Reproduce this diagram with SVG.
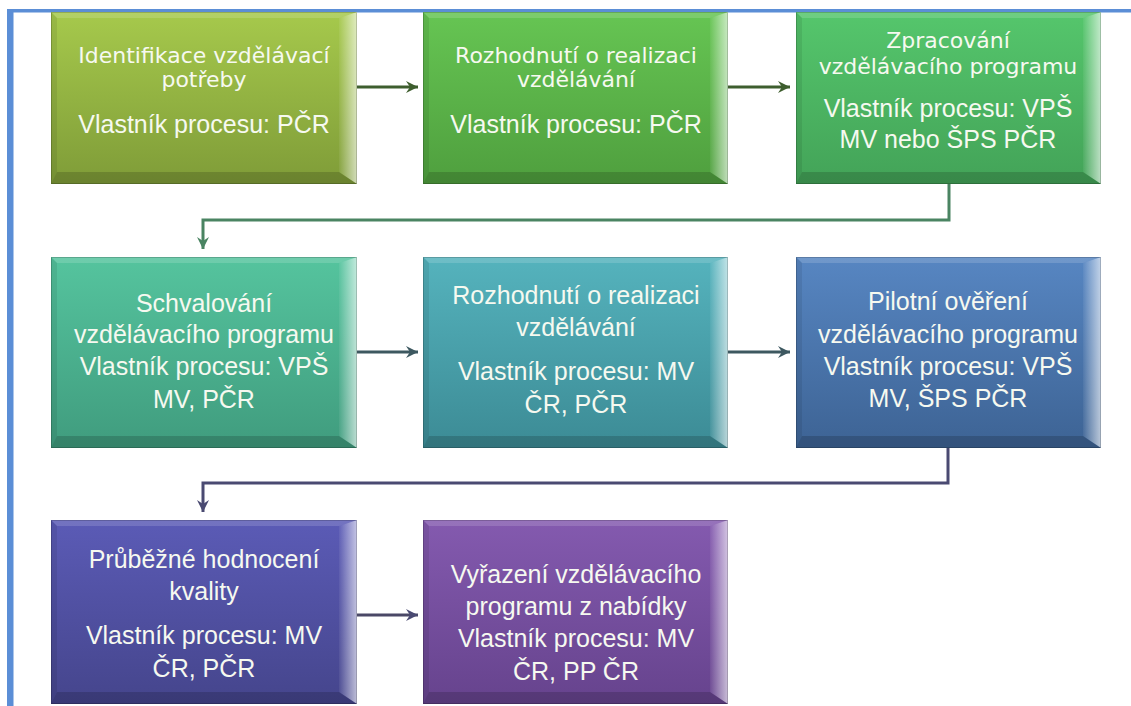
<svg xmlns="http://www.w3.org/2000/svg" width="1131" height="706" viewBox="0 0 1131 706">
<style>
.t{font-family:"Liberation Sans",Arial,sans-serif;font-size:25px;fill:#f6f9f0;text-anchor:middle}
.d{font-family:"DejaVu Sans",Verdana,sans-serif;font-size:22px;fill:#f6f9f0;text-anchor:middle}
.bt{fill:#ffffff;fill-opacity:0.15}
.br{fill:url(#rb)}
.bb{fill:#000000;fill-opacity:0.16}
.bl{fill:#000000;fill-opacity:0.08}
.edge{fill:none;stroke:#000;stroke-opacity:0.18;stroke-width:1}
.c{fill:none;stroke-width:3}
</style>
<defs>
<linearGradient id="rb" x1="0" y1="0" x2="1" y2="0"><stop offset="0" stop-color="#fff" stop-opacity="0.05"/><stop offset="1" stop-color="#fff" stop-opacity="0.65"/></linearGradient>
<linearGradient id="g1" x1="0" y1="0" x2="0" y2="1"><stop offset="0" stop-color="#a6c94c"/><stop offset="1" stop-color="#7f9c38"/></linearGradient>
<linearGradient id="g2" x1="0" y1="0" x2="0" y2="1"><stop offset="0" stop-color="#66c553"/><stop offset="1" stop-color="#4f9f3e"/></linearGradient>
<linearGradient id="g3" x1="0" y1="0" x2="0" y2="1"><stop offset="0" stop-color="#55c66c"/><stop offset="1" stop-color="#43a358"/></linearGradient>
<linearGradient id="g4" x1="0" y1="0" x2="0" y2="1"><stop offset="0" stop-color="#55c49e"/><stop offset="1" stop-color="#409c7e"/></linearGradient>
<linearGradient id="g5" x1="0" y1="0" x2="0" y2="1"><stop offset="0" stop-color="#55b3bd"/><stop offset="1" stop-color="#3c8b95"/></linearGradient>
<linearGradient id="g6" x1="0" y1="0" x2="0" y2="1"><stop offset="0" stop-color="#5786c2"/><stop offset="1" stop-color="#3d6394"/></linearGradient>
<linearGradient id="g7" x1="0" y1="0" x2="0" y2="1"><stop offset="0" stop-color="#5b5bb6"/><stop offset="1" stop-color="#45458c"/></linearGradient>
<linearGradient id="g8" x1="0" y1="0" x2="0" y2="1"><stop offset="0" stop-color="#845aaf"/><stop offset="1" stop-color="#66438d"/></linearGradient>
<marker id="mG" markerUnits="userSpaceOnUse" markerWidth="16" markerHeight="16" refX="13" refY="7" orient="auto"><path d="M1,1 L13,7 L1,13 L5,7 Z" fill="#3e5e2e"/></marker>
<marker id="mT" markerUnits="userSpaceOnUse" markerWidth="16" markerHeight="16" refX="13" refY="7" orient="auto"><path d="M1,1 L13,7 L1,13 L5,7 Z" fill="#4a8462"/></marker>
<marker id="mS" markerUnits="userSpaceOnUse" markerWidth="16" markerHeight="16" refX="13" refY="7" orient="auto"><path d="M1,1 L13,7 L1,13 L5,7 Z" fill="#3d5860"/></marker>
<marker id="mI" markerUnits="userSpaceOnUse" markerWidth="16" markerHeight="16" refX="13" refY="7" orient="auto"><path d="M1,1 L13,7 L1,13 L5,7 Z" fill="#4a4a72"/></marker>
</defs>
<rect width="1131" height="706" fill="#ffffff"/>
<g id="frame">
<rect x="7" y="9" width="1124" height="3.5" fill="#5b8ed6"/>
<rect x="7" y="9" width="6.5" height="697" fill="#5b8ed6"/>
</g>
<g id="connectors">
<path class="c" d="M357,87 H418" stroke="#3e5e2e" marker-end="url(#mG)"/>
<path class="c" d="M728,87 H790" stroke="#3e5e2e" marker-end="url(#mG)"/>
<path class="c" d="M949,184 V220 H203 V249" stroke="#4a8462" marker-end="url(#mT)"/>
<path class="c" d="M357,352 H418" stroke="#3d5860" marker-end="url(#mS)"/>
<path class="c" d="M728,352 H790" stroke="#3d5860" marker-end="url(#mS)"/>
<path class="c" d="M948,448 V483 H203 V512" stroke="#4a4a72" marker-end="url(#mI)"/>
<path class="c" d="M357,615 H418" stroke="#4a4866" marker-end="url(#mI)"/>
</g>
<g id="n1">
<rect x="51" y="12" width="306" height="172" fill="url(#g1)"/>
<polygon class="bt" points="51,12 357,12 339,18 57,18"/>
<polygon class="br" points="357,12 339,18 339,172 357,184"/>
<polygon class="bb" points="51,184 57,172 339,172 357,184"/>
<polygon class="bl" points="51,12 57,18 57,172 51,184"/>
<rect class="edge" x="51.5" y="12.5" width="305" height="171"/>
<text class="d" x="204" y="63">Identifikace vzdělávací</text>
<text class="d" x="204" y="87">potřeby</text>
<text class="t" x="204" y="133">Vlastník procesu: PČR</text>
</g>
<g id="n2">
<rect x="423" y="12" width="305" height="172" fill="url(#g2)"/>
<polygon class="bt" points="423,12 728,12 710,18 429,18"/>
<polygon class="br" points="728,12 710,18 710,172 728,184"/>
<polygon class="bb" points="423,184 429,172 710,172 728,184"/>
<polygon class="bl" points="423,12 429,18 429,172 423,184"/>
<rect class="edge" x="423.5" y="12.5" width="304" height="171"/>
<text class="d" x="576" y="63">Rozhodnutí o realizaci</text>
<text class="d" x="576" y="87">vzdělávání</text>
<text class="t" x="576" y="133">Vlastník procesu: PČR</text>
</g>
<g id="n3">
<rect x="796" y="12" width="305" height="172" fill="url(#g3)"/>
<polygon class="bt" points="796,12 1101,12 1083,18 802,18"/>
<polygon class="br" points="1101,12 1083,18 1083,172 1101,184"/>
<polygon class="bb" points="796,184 802,172 1083,172 1101,184"/>
<polygon class="bl" points="796,12 802,18 802,172 796,184"/>
<rect class="edge" x="796.5" y="12.5" width="304" height="171"/>
<text class="d" x="948" y="48">Zpracování</text>
<text class="d" x="948" y="74">vzdělávacího programu</text>
<text class="t" x="948" y="117">Vlastník procesu: VPŠ</text>
<text class="t" x="948" y="148">MV nebo ŠPS PČR</text>
</g>
<g id="n4">
<rect x="51" y="257" width="306" height="191" fill="url(#g4)"/>
<polygon class="bt" points="51,257 357,257 339,263 57,263"/>
<polygon class="br" points="357,257 339,263 339,436 357,448"/>
<polygon class="bb" points="51,448 57,436 339,436 357,448"/>
<polygon class="bl" points="51,257 57,263 57,436 51,448"/>
<rect class="edge" x="51.5" y="257.5" width="305" height="190"/>
<text class="t" x="204" y="312">Schvalování</text>
<text class="t" x="204" y="343">vzdělávacího programu</text>
<text class="t" x="204" y="375">Vlastník procesu: VPŠ</text>
<text class="t" x="204" y="408">MV, PČR</text>
</g>
<g id="n5">
<rect x="423" y="257" width="305" height="191" fill="url(#g5)"/>
<polygon class="bt" points="423,257 728,257 710,263 429,263"/>
<polygon class="br" points="728,257 710,263 710,436 728,448"/>
<polygon class="bb" points="423,448 429,436 710,436 728,448"/>
<polygon class="bl" points="423,257 429,263 429,436 423,448"/>
<rect class="edge" x="423.5" y="257.5" width="304" height="190"/>
<text class="t" x="576" y="304">Rozhodnutí o realizaci</text>
<text class="t" x="576" y="336">vzdělávání</text>
<text class="t" x="576" y="380">Vlastník procesu: MV</text>
<text class="t" x="576" y="413">ČR, PČR</text>
</g>
<g id="n6">
<rect x="796" y="257" width="305" height="191" fill="url(#g6)"/>
<polygon class="bt" points="796,257 1101,257 1083,263 802,263"/>
<polygon class="br" points="1101,257 1083,263 1083,436 1101,448"/>
<polygon class="bb" points="796,448 802,436 1083,436 1101,448"/>
<polygon class="bl" points="796,257 802,263 802,436 796,448"/>
<rect class="edge" x="796.5" y="257.5" width="304" height="190"/>
<text class="t" x="948" y="310">Pilotní ověření</text>
<text class="t" x="948" y="343">vzdělávacího programu</text>
<text class="t" x="948" y="375">Vlastník procesu: VPŠ</text>
<text class="t" x="948" y="407">MV, ŠPS PČR</text>
</g>
<g id="n7">
<rect x="51" y="520" width="306" height="184" fill="url(#g7)"/>
<polygon class="bt" points="51,520 357,520 339,526 57,526"/>
<polygon class="br" points="357,520 339,526 339,692 357,704"/>
<polygon class="bb" points="51,704 57,692 339,692 357,704"/>
<polygon class="bl" points="51,520 57,526 57,692 51,704"/>
<rect class="edge" x="51.5" y="520.5" width="305" height="183"/>
<text class="t" x="204" y="568">Průběžné hodnocení</text>
<text class="t" x="204" y="600">kvality</text>
<text class="t" x="204" y="644">Vlastník procesu: MV</text>
<text class="t" x="204" y="677">ČR, PČR</text>
</g>
<g id="n8">
<rect x="423" y="520" width="305" height="184" fill="url(#g8)"/>
<polygon class="bt" points="423,520 728,520 710,526 429,526"/>
<polygon class="br" points="728,520 710,526 710,692 728,704"/>
<polygon class="bb" points="423,704 429,692 710,692 728,704"/>
<polygon class="bl" points="423,520 429,526 429,692 423,704"/>
<rect class="edge" x="423.5" y="520.5" width="304" height="183"/>
<text class="t" x="576" y="583">Vyřazení vzdělávacího</text>
<text class="t" x="576" y="615">programu z nabídky</text>
<text class="t" x="576" y="647">Vlastník procesu: MV</text>
<text class="t" x="576" y="680">ČR, PP ČR</text>
</g>
</svg>
